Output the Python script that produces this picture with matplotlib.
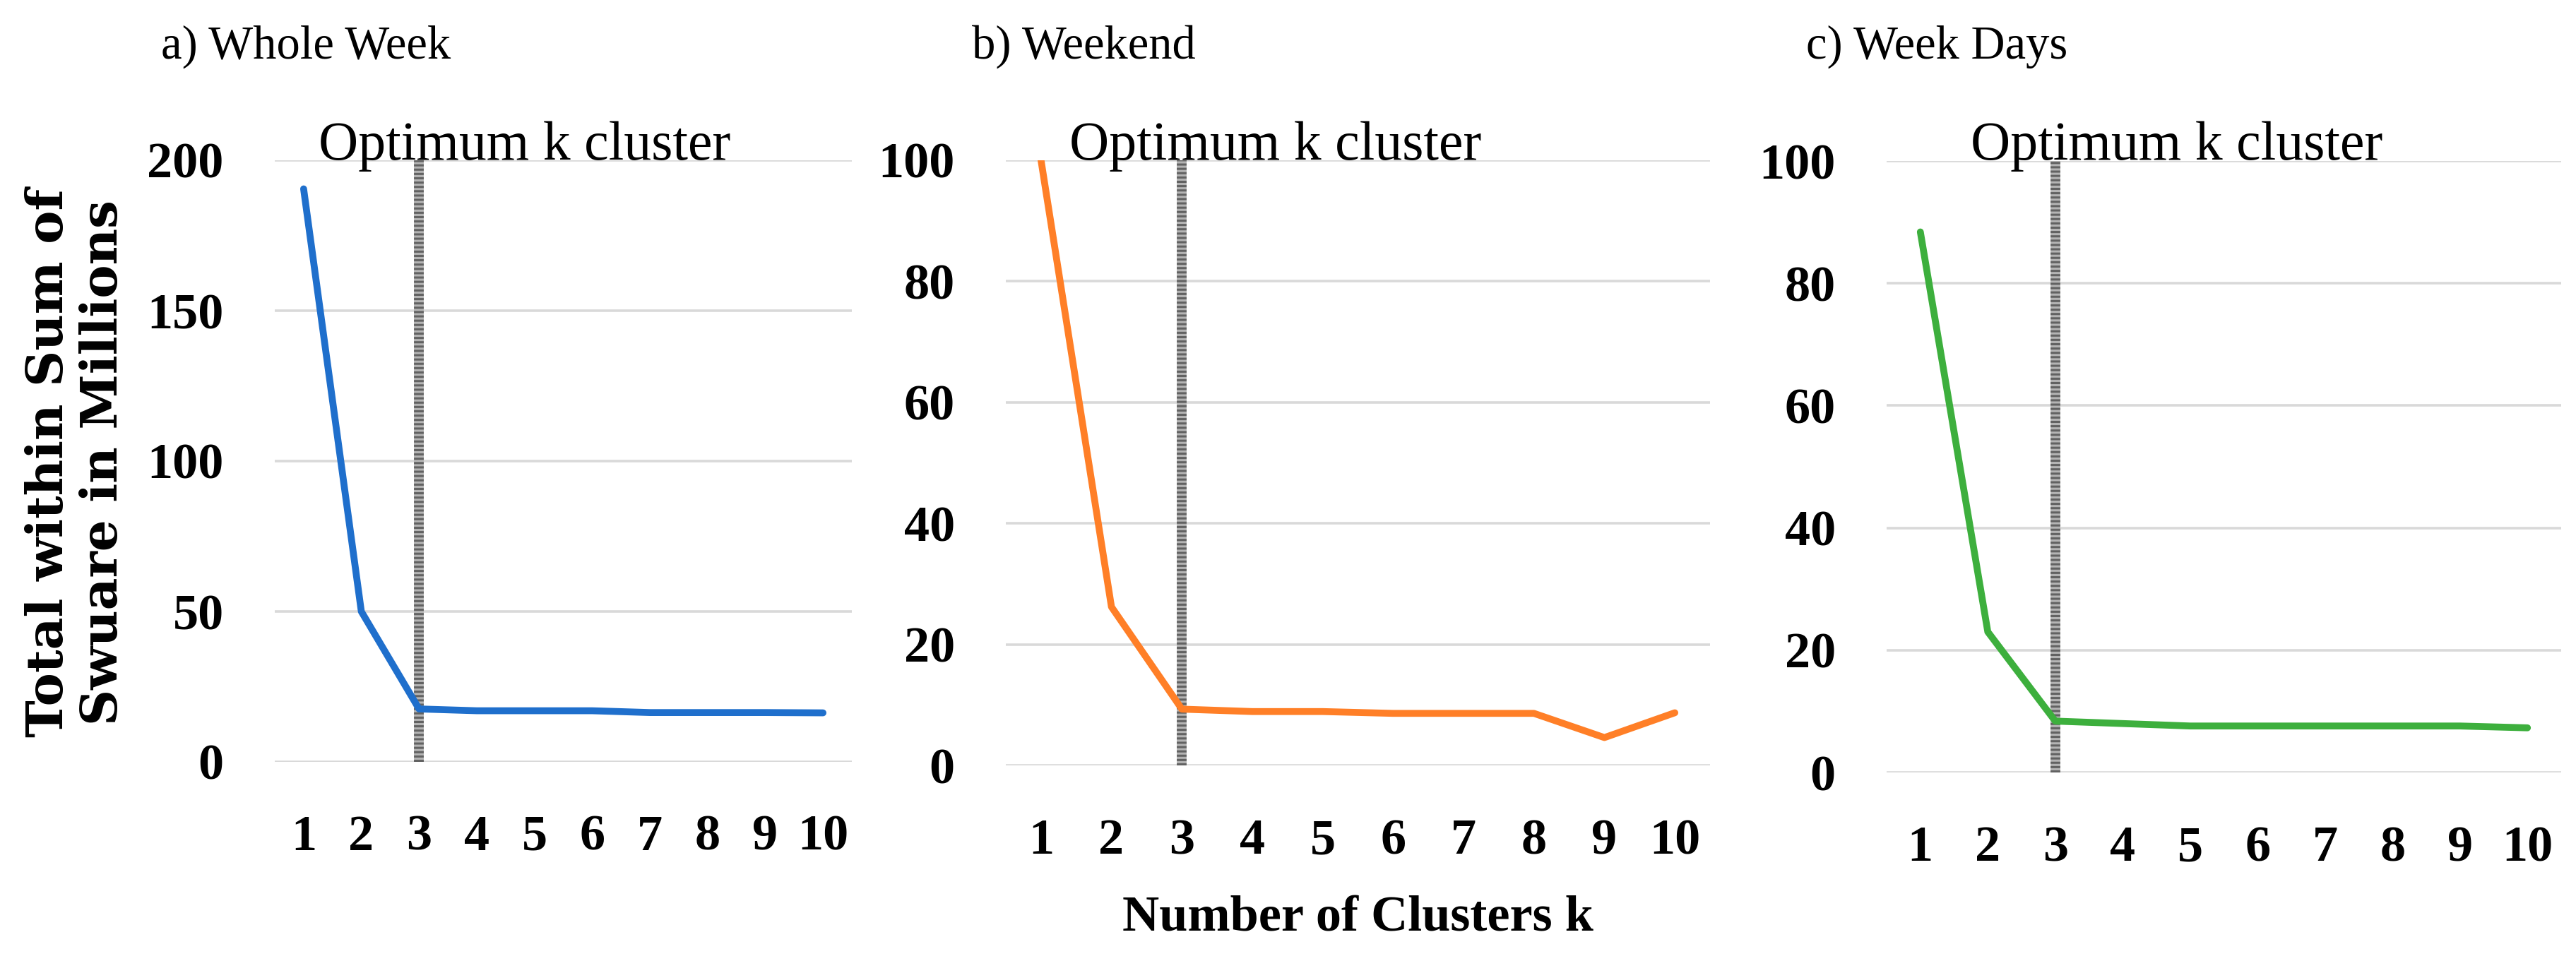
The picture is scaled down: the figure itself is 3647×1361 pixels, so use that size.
import matplotlib
matplotlib.use("Agg")
import matplotlib.pyplot as plt

# ----------------------------------
# Data (total within sum of squares, millions)
clusters = [1, 2, 3, 4, 5, 6, 7, 8, 9, 10]
whole_week = [190.5, 50.0, 17.6, 17.0, 17.0, 17.0, 16.4, 16.4, 16.4, 16.3]
weekend = [100.0, 26.2, 9.3, 8.9, 8.9, 8.6, 8.6, 8.6, 4.6, 8.7]
week_days = [88.4, 23.0, 8.4, 8.0, 7.6, 7.6, 7.6, 7.6, 7.6, 7.3]
optimum_k = 3

panel_titles = ["a) Whole Week", "b) Weekend", "c) Week Days"]
y_ticks = [[0, 50, 100, 150, 200],
           [0, 20, 40, 60, 80, 100],
           [0, 20, 40, 60, 80, 100]]
marker_label = "Optimum k cluster"
x_label = "Number of Clusters k"
y_label = "Total within Sum of\nSwuare in Millions"

W, H = 3647, 1361
SERIF = "Liberation Serif"


def px_box(left, right, top, bottom):
    # convert pixel edges into a figure-fraction axes rect
    return [left / W, 1 - bottom / H, (right - left) / W, (bottom - top) / H]


# ----------------------------------
# Draw one elbow panel.
def draw_panel(ax, values, ticks, color):
    ax.set_xlim(0.5, 10.5)
    ax.set_ylim(ticks[0], ticks[-1])
    ax.set_yticks(ticks)
    ax.set_xticks(clusters)
    ax.grid(axis="y", color="#d9d9d9", linewidth=2.6)
    ax.set_axisbelow(True)
    for s in ax.spines.values():
        s.set_visible(False)
    ax.tick_params(axis="both", length=0)
    ax.tick_params(axis="y", pad=52)
    ax.tick_params(axis="x", pad=54)
    for lab in ax.get_xticklabels() + ax.get_yticklabels():
        lab.set_fontfamily(SERIF)
        lab.set_fontweight("bold")
        lab.set_fontsize(52)

    # optimum k marker: grey band with fine black dots
    ax.axvline(optimum_k, color="#b4b4b4", linewidth=10, zorder=2)
    ax.axvline(optimum_k, color="black", linewidth=10, alpha=0.45,
               dashes=(0.22, 0.22), zorder=2)

    ax.plot(clusters, values, color=color, linewidth=7,
            solid_capstyle="round", solid_joinstyle="round", zorder=3)


def main():
    fig = plt.figure(figsize=(W / 100, H / 100), dpi=100)

    boxes = [px_box(389, 1206, 227, 1079),
             px_box(1424, 2421, 227, 1084),
             px_box(2671, 3626, 228, 1094)]
    series = [whole_week, weekend, week_days]
    colors = ["#1f6fcc", "#ff7f27", "#3daf3d"]
    title_x = [228, 1376, 2557]
    marker_x = [451, 1514, 2790]

    for i in range(3):
        ax = fig.add_axes(boxes[i])
        draw_panel(ax, series[i], y_ticks[i], colors[i])
        fig.text(title_x[i] / W, 1 - 83 / H, panel_titles[i],
                 family=SERIF, fontsize=48, va="baseline", ha="left")
        fig.text(marker_x[i] / W, 1 - 226 / H, marker_label,
                 family=SERIF, fontsize=56, va="baseline", ha="left",
                 zorder=5)

    fig.text(1922 / W, 1 - 1301 / H, x_label, family=SERIF,
             fontweight="bold", fontsize=52, ha="center", va="center")
    fig.text(108 / W, 1 - 655 / H, y_label, family="DejaVu Serif",
             fontweight="bold", fontsize=51, rotation=90, ha="center",
             va="center", multialignment="center", linespacing=1.15)

    fig.savefig("out.png", dpi=100, facecolor="white")


if __name__ == '__main__':
    main()
